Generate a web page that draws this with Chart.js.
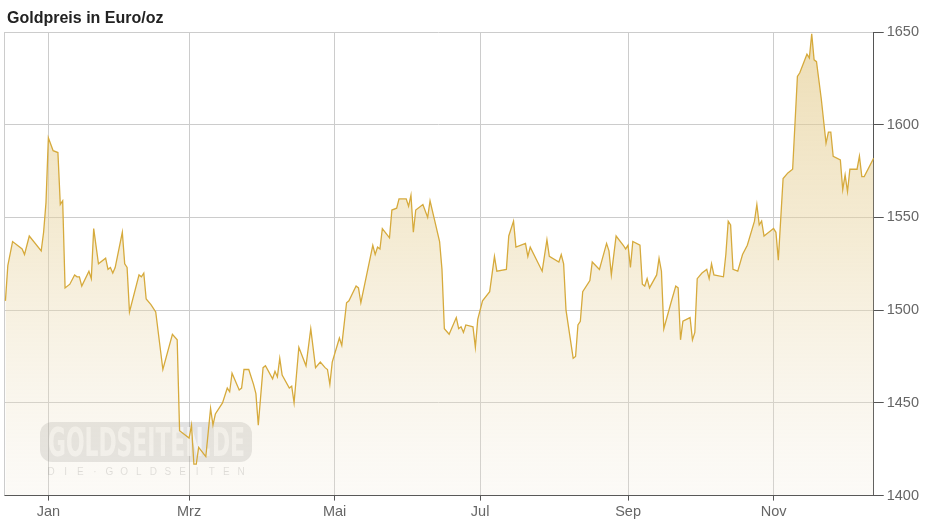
<!DOCTYPE html>
<html>
<head>
<meta charset="utf-8">
<script src="https://cdn.jsdelivr.net/npm/chart.js@4.4.1/dist/chart.umd.min.js"></script>
<style>
  html, body { margin: 0; padding: 0; background: #fff; }
  #wrap { width: 928px; height: 527px; }
</style>
</head>
<body>
<div id="wrap"><canvas id="gold" width="928" height="527"></canvas></div>
<script>
// days since 1 Jan 2021 (negative = Dec 2020) and price in EUR/oz
const days = [
  -18,-17,-15,-11,-10,-8,-3,-2,-1,0,2,4,5,6,7,9,11,12,13,14,17,18,19,21,24,25,26,27,28,
  31,32,33,34,38,39,40,41,43,45,48,52,54,55,
  59,60,61,62,63,66,68,69,70,73,75,76,77,80,81,82,84,86,87,88,
  90,91,94,95,96,97,98,101,102,103,105,108,110,112,114,116,117,118,119,
  122,123,125,126,129,130,131,136,137,138,139,140,143,144,146,147,150,
  151,152,153,154,157,159,160,162,164,165,166,168,171,172,173,174,175,178,179,180,
  182,185,187,188,192,193,195,196,200,201,202,207,209,210,
  214,215,216,217,220,221,222,223,224,227,228,231,234,235,236,238,241,242,
  243,244,245,248,249,250,251,252,255,256,257,258,261,263,264,265,266,269,270,271,272,
  274,276,277,278,279,283,284,285,286,287,289,291,293,296,297,298,299,300,302,
  304,305,306,308,310,312,314,315,318,319,320,321,322,324,326,327,328,329,332,333,334,335,336,339,340,341,342,346
];
const prices = [
  1505,1524,1537,1533,1530,1540,1532,1542,1558,1593,1586,1585,1557,1559,1512,1514,1519,1518,1518,1513,1521,1517,1544,1525,1528,1522,1523,1520,1523,
  1542,1525,1523,1499,1519,1518,1520,1506,1503,1499,1468,1487,1484,1435,
  1431,1438,1417,1417,1426,1421,1447,1438,1444,1450,1458,1456,1466,1457,1458,1468,1468,1460,1455,1438,
  1469,1470,1463,1467,1464,1474,1465,1458,1459,1450,1480,1470,1490,1469,1472,1469,1468,1460,1472,
  1485,1481,1504,1505,1513,1512,1504,1535,1530,1534,1533,1544,1539,1554,1555,1560,1560,
  1556,1562,1542,1554,1557,1550,1559,1548,1537,1522,1490,1487,1496,1490,1491,1488,1492,1491,1480,1495,
  1505,1510,1529,1521,1522,1540,1548,1534,1536,1529,1534,1521,1538,1529,
  1526,1530,1525,1500,1474,1475,1492,1494,1510,1516,1526,1522,1536,1532,1519,1540,1535,1533,
  1535,1523,1537,1535,1514,1513,1517,1512,1519,1528,1521,1490,1504,1513,1512,1484,1494,1496,1484,1488,1517,
  1520,1522,1517,1525,1519,1518,1530,1548,1546,1522,1521,1530,1535,1548,1557,1546,1548,1540,1542,
  1544,1542,1527,1571,1574,1576,1626,1628,1638,1636,1649,1635,1634,1614,1590,1596,1596,1583,1581,1565,1573,1564,1576,1576,1583,1572,1572,1582
];

const monthDays = [0, 59, 120, 181, 243, 304];
const monthLabels = ["Jan", "Mrz", "Mai", "Jul", "Sep", "Nov"];
const yTicks = [1400, 1450, 1500, 1550, 1600, 1650];

const FONT = "'Liberation Sans', Arial, sans-serif";

/* title, left frame and the watermark */
const extras = {
  id: "extras",
  beforeDatasetsDraw(chart) {
    const { ctx, chartArea: a } = chart;
    ctx.save();
    // left frame line
    ctx.strokeStyle = "#cccccc";
    ctx.lineWidth = 1;
    ctx.beginPath();
    ctx.moveTo(Math.round(a.left) + 0.5, a.top);
    ctx.lineTo(Math.round(a.left) + 0.5, a.bottom);
    ctx.stroke();

    // watermark
    ctx.fillStyle = "rgba(110,110,110,0.2)";
    ctx.beginPath();
    ctx.roundRect(40, 422, 212, 40, 12);
    ctx.fill();
    ctx.font = "bold 28px 'DejaVu Sans Condensed', " + FONT;
    ctx.textBaseline = "alphabetic";
    const txt = "GOLDSEITEN.DE";
    const w = ctx.measureText(txt).width;
    ctx.save();
    ctx.translate(48, 456);
    ctx.scale(197 / w, 1.4);
    ctx.fillStyle = "rgba(255,255,255,0.6)";
    ctx.fillText(txt, 0, 0);
    ctx.restore();
    const sub = "DIE·GOLDSEITEN";
    ctx.font = "10px " + FONT;
    ctx.fillStyle = "rgba(0,0,0,0.15)";
    ctx.textAlign = "center";
    for (let i = 0; i < sub.length; i++) {
      ctx.fillText(sub[i], 51 + i * (190 / (sub.length - 1)), 475);
    }
    ctx.restore();
  },
  afterDraw(chart) {
    const { ctx } = chart;
    ctx.save();
    ctx.font = "bold 16px " + FONT;
    ctx.fillStyle = "#222";
    ctx.textBaseline = "alphabetic";
    ctx.fillText("Goldpreis in Euro/oz", 7, 23);
    ctx.restore();
  }
};

const ctx = document.getElementById("gold").getContext("2d");

new Chart(ctx, {
  type: "line",
  data: {
    datasets: [{
      data: days.map((d, i) => ({ x: d, y: prices[i] })),
      borderColor: "#d6aa3c",
      borderWidth: 1.3,
      pointRadius: 0,
      tension: 0,
      fill: "start",
      backgroundColor: (c) => {
        const a = c.chart.chartArea;
        if (!a) return "rgba(233,214,165,0.5)";
        const g = c.chart.ctx.createLinearGradient(0, a.top, 0, a.bottom);
        g.addColorStop(0, "rgba(226,200,135,0.62)");
        g.addColorStop(0.45, "rgba(232,212,160,0.45)");
        g.addColorStop(1, "rgba(240,232,215,0.2)");
        return g;
      }
    }]
  },
  options: {
    responsive: false,
    animation: false,
    layout: { padding: { top: 32, right: 6, bottom: 3, left: 4 } },
    plugins: {
      legend: { display: false },
      tooltip: { enabled: false }
    },
    scales: {
      x: {
        type: "linear",
        min: -18.6,
        max: 346,
        afterBuildTicks: (s) => { s.ticks = monthDays.map(v => ({ value: v })); },
        ticks: {
          autoSkip: false,
          maxRotation: 0,
          padding: 3,
          color: "#666",
          font: { family: FONT, size: 14.5 },
          callback: (v) => monthLabels[monthDays.indexOf(v)]
        },
        grid: { color: "#cccccc", tickColor: "#555", tickLength: 5 },
        border: { color: "#555" }
      },
      y: {
        position: "right",
        min: 1400,
        max: 1650,
        afterBuildTicks: (s) => { s.ticks = yTicks.map(v => ({ value: v })); },
        ticks: {
          padding: 3,
          color: "#666",
          font: { family: FONT, size: 14.5 },
          callback: (v) => String(v)
        },
        grid: { color: "#cccccc", tickColor: "#555", tickLength: 10 },
        border: { color: "#555" }
      }
    }
  },
  plugins: [extras]
});
</script>
</body>
</html>
